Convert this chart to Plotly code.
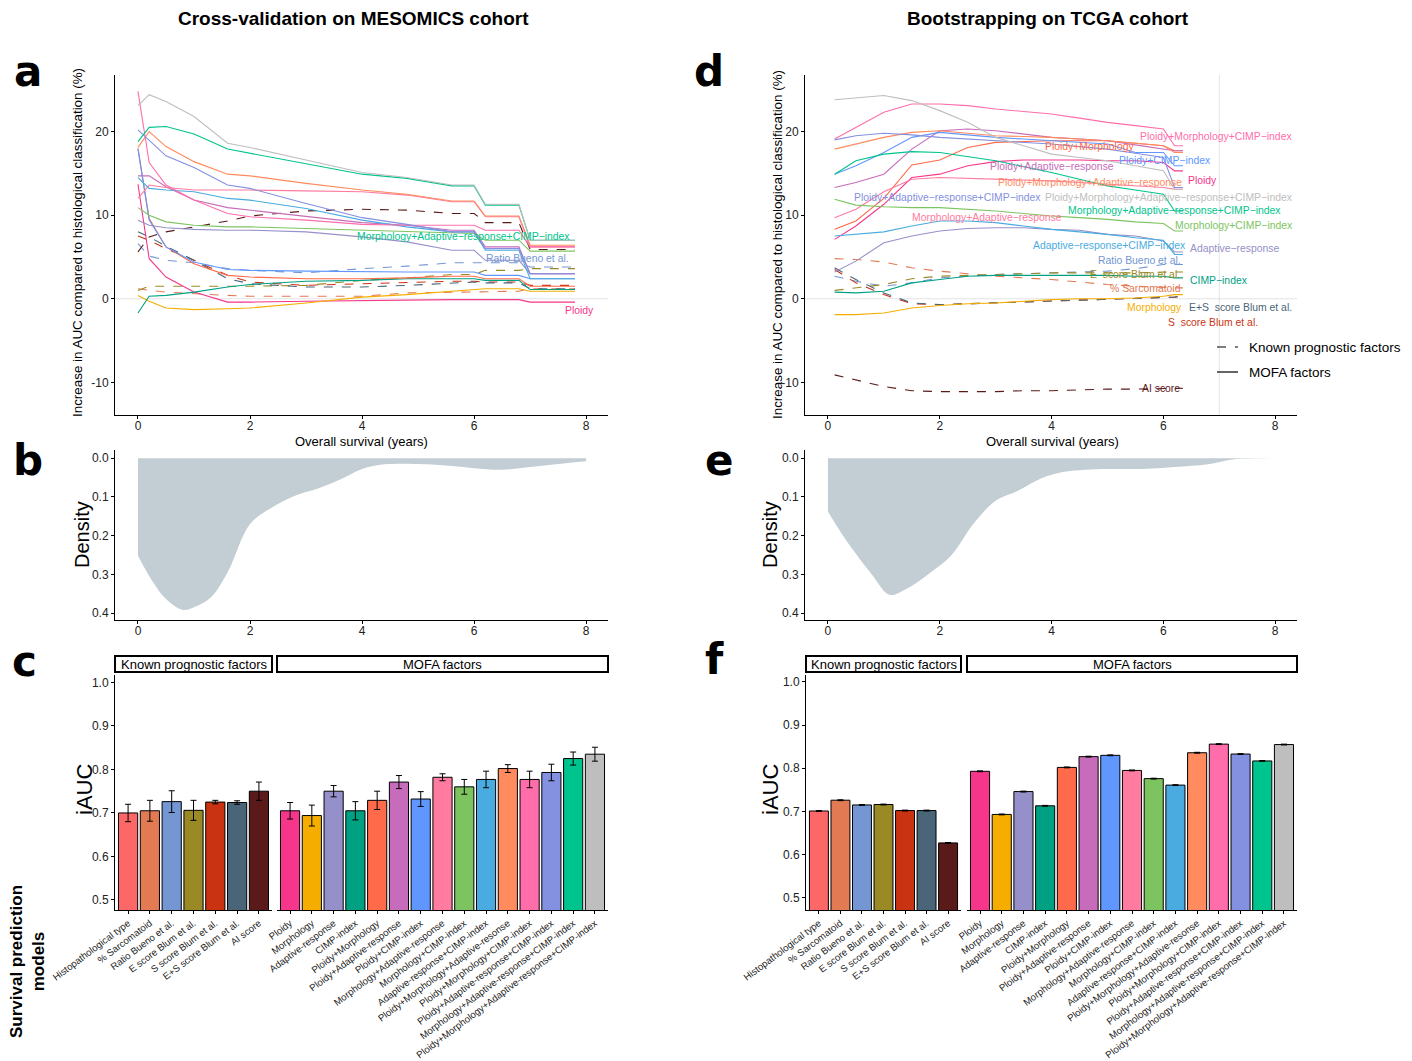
import plotly.graph_objects as go

W, H = 1412, 1061

# ---------------- categories / colours ----------------
known_factors = ["Histopathological type", "% Sarcomatoid", "Ratio Bueno et al.", "E score Blum et al.",
                 "S score Blum et al.", "E+S score Blum et al.", "AI score"]
mofa_factors = ["Ploidy", "Morphology", "Adaptive-response", "CIMP-index", "Ploidy+Morphology",
                "Ploidy+Adaptive-response", "Ploidy+CIMP-index", "Morphology+Adaptive-response",
                "Morphology+CIMP-index", "Adaptive-response+CIMP-index", "Ploidy+Morphology+Adaptive-resonse",
                "Ploidy+Morphology+CIMP-index", "Ploidy+Adaptive-response+CIMP-index",
                "Morphology+Adaptive-response+CIMP-index", "Ploidy+Morphology+Adaptive-response+CIMP-index"]
known_colors = ["#FC6767", "#E27A54", "#7496D2", "#9A8A25", "#C93312", "#4A6578", "#5A1A1A"]
mofa_colors = ["#F5368A", "#F5AE00", "#9690CA", "#00A083", "#FF6A4A", "#C76CBA", "#6097FF", "#FF7BA0",
               "#7DC460", "#49ABDF", "#FF8B5E", "#FF6EAA", "#8490E0", "#00C48D", "#BEBEBE"]

# ---------------- iAUC bars ----------------
meso_known_iauc = [0.700, 0.705, 0.726, 0.706, 0.725, 0.724, 0.750]
meso_known_err = [0.020, 0.024, 0.025, 0.023, 0.004, 0.004, 0.021]
meso_mofa_iauc = [0.705, 0.694, 0.750, 0.705, 0.729, 0.771, 0.732, 0.782, 0.760, 0.777, 0.802, 0.777,
                  0.793, 0.825, 0.835]
meso_mofa_err = [0.019, 0.024, 0.013, 0.021, 0.021, 0.015, 0.017, 0.008, 0.017, 0.019, 0.009, 0.019,
                 0.019, 0.015, 0.016]
tcga_known_iauc = [0.701, 0.726, 0.715, 0.716, 0.702, 0.702, 0.627]
tcga_known_err = [0.001, 0.001, 0.001, 0.001, 0.001, 0.001, 0.001]
tcga_mofa_iauc = [0.793, 0.693, 0.746, 0.713, 0.802, 0.827, 0.830, 0.795, 0.776, 0.761, 0.836, 0.856,
                  0.833, 0.817, 0.855]
tcga_mofa_err = [0.001, 0.001, 0.001, 0.001, 0.001, 0.001, 0.001, 0.001, 0.001, 0.001, 0.001, 0.001,
                 0.001, 0.001, 0.001]

# ---------------- time-dependent AUC increase: MESOMICS ----------------
meso_time = [0, 0.2, 0.5, 1.0, 1.6, 2.0, 3.0, 4.0, 4.8, 5.6, 6.0, 6.2, 6.8, 7.0, 7.8]
meso_sarcomatoid = [1.2, 1.0, 0.8, 0.6, 0.4, 0.3, 0.3, 0.3, 0.7, 0.8, 0.8, 0.9, 0.9, 1.2, 1.2]
meso_ratio_bueno = [6.6, 5.1, 4.6, 4.3, 3.6, 3.4, 3.1, 3.6, 3.9, 4.3, 4.3, 4.3, 4.3, 3.8, 3.8]
meso_e_score = [1.0, 1.5, 1.5, 1.5, 1.5, 1.5, 1.6, 2.2, 2.5, 2.9, 2.9, 3.4, 3.4, 3.6, 3.6]
meso_s_score = [7.5, 7.0, 6.0, 4.6, 2.8, 2.0, 1.6, 1.8, 1.9, 2.1, 2.1, 2.0, 2.0, 1.6, 1.6]
meso_es_score = [8.0, 7.4, 6.3, 4.6, 2.4, 1.8, 1.4, 1.4, 1.6, 1.9, 2.0, 1.9, 1.9, 1.2, 1.2]
meso_ai_score = [5.6, 7.4, 8.0, 8.6, 9.3, 9.9, 10.5, 10.7, 10.6, 10.2, 10.2, 9.1, 9.1, 5.9, 5.9]
meso_p = [13.7, 4.8, 2.6, 0.8, -0.4, -0.4, -0.3, -0.2, -0.2, -0.1, -0.1, -0.1, -0.1, -0.4, -0.4]
meso_m = [0.4, -0.3, -1.1, -1.3, -1.2, -1.1, -0.5, 0.2, 0.5, 0.9, 1.1, 1.2, 1.2, 0.9, 0.9]
meso_a = [9.4, 8.8, 8.5, 8.3, 8.2, 8.2, 8.0, 7.4, 6.8, 5.8, 5.8, 4.6, 4.6, 3.0, 3.0]
meso_c = [-1.7, 0.3, 0.4, 0.8, 1.4, 1.7, 2.1, 2.2, 2.4, 2.4, 2.4, 2.2, 2.2, 1.1, 1.1]
meso_pm = [18.0, 9.6, 6.2, 4.2, 2.8, 2.6, 2.4, 2.4, 2.5, 2.7, 2.7, 2.4, 2.4, 1.5, 1.5]
meso_pa = [14.7, 14.7, 13.4, 11.8, 10.9, 10.6, 9.9, 9.1, 8.8, 8.2, 8.2, 6.2, 6.2, 3.0, 3.0]
meso_pc = [17.9, 9.4, 6.2, 4.4, 3.5, 3.4, 3.3, 3.2, 3.2, 3.2, 3.2, 2.8, 2.8, 2.4, 2.4]
meso_ma = [12.0, 13.6, 13.3, 13.0, 13.0, 13.0, 12.9, 12.8, 12.4, 11.6, 11.6, 9.8, 9.8, 6.2, 6.2]
meso_mc = [10.9, 10.0, 9.2, 8.8, 8.6, 8.6, 8.4, 8.2, 8.0, 7.8, 7.8, 7.0, 7.0, 5.7, 5.7]
meso_ac = [14.5, 13.2, 13.0, 12.8, 12.0, 11.8, 10.8, 9.4, 8.6, 8.0, 8.0, 5.8, 5.8, 2.4, 2.4]
meso_pma = [18.1, 20.0, 18.2, 16.4, 14.9, 14.7, 13.8, 13.0, 12.5, 11.7, 11.7, 9.9, 9.9, 6.4, 6.4]
meso_pmc = [24.8, 16.3, 13.6, 11.8, 10.2, 9.8, 9.4, 8.9, 8.8, 8.8, 8.8, 8.2, 8.2, 6.2, 6.2]
meso_pac = [20.2, 19.0, 17.1, 15.7, 13.6, 13.2, 11.4, 9.7, 8.9, 8.0, 8.0, 6.0, 6.0, 3.0, 3.0]
meso_mac = [18.8, 20.5, 20.6, 19.7, 17.9, 17.4, 16.2, 14.9, 14.4, 13.5, 13.5, 11.2, 11.2, 7.0, 7.0]
meso_pmac = [23.1, 24.4, 23.6, 21.8, 18.6, 18.1, 16.6, 15.1, 14.5, 13.6, 13.6, 11.3, 11.3, 7.0, 7.0]

# ---------------- time-dependent AUC increase: TCGA ----------------
tcga_time = [0.12, 0.5, 1.0, 1.5, 2.0, 2.5, 3.0, 3.5, 4.0, 4.5, 5.0, 5.5, 6.0, 6.2, 6.35]
tcga_sarcomatoid = [4.8, 4.7, 4.4, 3.7, 3.3, 3.0, 2.7, 2.5, 2.3, 2.0, 1.7, 1.5, 1.3, 1.3, 1.3]
tcga_ratio_bueno = [2.7, 2.1, 1.5, 1.9, 2.5, 2.7, 2.9, 3.0, 3.1, 3.2, 3.3, 3.6, 4.1, 4.1, 4.1]
tcga_e_score = [1.0, 1.3, 1.7, 2.4, 2.7, 2.8, 2.9, 3.0, 3.1, 3.1, 3.1, 3.1, 3.2, 3.2, 3.2]
tcga_s_score = [3.5, 1.9, 0.5, -0.6, -0.7, -0.6, -0.5, -0.4, -0.3, -0.2, -0.1, 0.0, 0.1, 0.2, 0.3]
tcga_es_score = [3.7, 2.3, 0.7, -0.5, -0.7, -0.6, -0.5, -0.4, -0.3, -0.2, -0.1, 0.0, 0.1, 0.2, 0.3]
tcga_ai_score = [-9.1, -9.7, -10.5, -11.0, -11.1, -11.1, -11.1, -11.0, -11.0, -10.9, -10.8, -10.8, -10.7, -10.7, -10.7]
tcga_p = [7.1, 8.7, 11.3, 14.5, 14.9, 15.9, 16.4, 16.6, 16.6, 16.6, 16.5, 16.5, 16.3, 15.3, 15.3]
tcga_m = [-1.9, -1.9, -1.7, -1.1, -0.8, -0.6, -0.5, -0.3, -0.1, 0.0, 0.0, 0.1, 0.3, 0.5, 0.5]
tcga_a = [3.2, 4.5, 6.7, 7.5, 8.1, 8.4, 8.5, 8.5, 8.3, 8.2, 7.7, 7.5, 6.9, 5.6, 5.6]
tcga_c = [0.8, 0.7, 0.9, 1.9, 2.3, 2.7, 2.8, 2.8, 2.8, 2.8, 2.8, 2.7, 2.7, 2.5, 2.5]
tcga_pm = [8.3, 9.3, 12.0, 16.0, 16.6, 18.1, 18.7, 18.8, 18.9, 18.9, 18.9, 18.6, 18.3, 17.7, 17.7]
tcga_pa = [13.3, 13.9, 14.9, 17.9, 20.1, 20.3, 20.1, 19.7, 19.3, 19.1, 18.9, 18.4, 17.9, 17.7, 17.7]
tcga_pc = [14.9, 15.9, 17.5, 19.3, 19.9, 19.6, 19.3, 19.1, 18.9, 18.7, 18.5, 17.5, 17.5, 15.9, 15.9]
tcga_ma = [9.7, 10.7, 12.8, 14.3, 14.5, 14.4, 14.3, 14.2, 14.1, 13.9, 13.7, 13.5, 13.3, 13.1, 13.1]
tcga_mc = [11.9, 11.2, 11.0, 10.9, 10.9, 10.7, 10.5, 10.2, 9.9, 9.7, 9.5, 9.2, 9.0, 8.1, 8.1]
tcga_ac = [7.5, 7.7, 8.0, 8.7, 9.3, 9.3, 9.1, 8.7, 8.3, 8.0, 7.7, 7.3, 7.0, 5.3, 5.3]
tcga_pma = [17.9, 18.5, 19.3, 19.9, 20.1, 19.8, 19.5, 19.4, 19.3, 19.1, 18.9, 18.6, 18.3, 17.5, 17.5]
tcga_pmc = [19.1, 20.5, 22.3, 23.3, 23.3, 23.1, 22.7, 22.4, 22.1, 21.6, 21.1, 20.7, 20.3, 18.3, 18.3]
tcga_pac = [19.0, 19.5, 19.8, 19.6, 19.3, 19.1, 18.9, 18.7, 18.5, 18.2, 17.9, 17.4, 16.9, 13.3, 13.3]
tcga_mac = [14.9, 16.5, 17.3, 17.6, 17.5, 17.0, 16.5, 15.8, 15.1, 14.3, 13.5, 13.0, 12.5, 10.5, 10.5]
tcga_pmac = [23.8, 24.0, 24.3, 23.7, 22.5, 21.1, 19.3, 18.3, 17.3, 16.9, 16.5, 15.9, 15.3, 13.1, 13.1]

# ---------------- survival time density ----------------
meso_dens_x = [0, 0.25, 0.5, 0.8, 1.0, 1.3, 1.6, 2.0, 2.4, 2.8, 3.2, 3.6, 4.0, 4.4, 5.0, 5.5, 6.0, 6.5, 7.0, 7.5, 8.0]
meso_dens_y = [0.252, 0.316, 0.364, 0.392, 0.385, 0.360, 0.295, 0.170, 0.127, 0.097, 0.079, 0.056, 0.028,
               0.016, 0.015, 0.019, 0.026, 0.030, 0.023, 0.015, 0.008]
tcga_dens_x = [0, 0.25, 0.5, 0.8, 1.1, 1.4, 1.8, 2.2, 2.6, 3.0, 3.4, 3.8, 4.2, 4.6, 5.0, 5.6, 6.2, 6.8, 7.2, 7.6, 8.0]
tcga_dens_y = [0.138, 0.196, 0.247, 0.303, 0.353, 0.338, 0.299, 0.252, 0.170, 0.110, 0.084, 0.053, 0.036,
               0.030, 0.028, 0.028, 0.023, 0.016, 0.004, 0.001, 0.0]

# ---------------- helpers ----------------
FONT = "Liberation Sans, Arial, sans-serif"


def dx(p):
    return p / W


def dy(p):
    return 1 - p / H


line_names = ["% Sarcomatoid", "Ratio Bueno et al.", "E score Blum et al.", "S score Blum et al.",
              "E+S score Blum et al.", "AI score"] + mofa_factors
line_colors = known_colors[1:] + mofa_colors
line_dash = ["dash"] * 6 + ["solid"] * 15
meso_series = [meso_sarcomatoid, meso_ratio_bueno, meso_e_score, meso_s_score, meso_es_score, meso_ai_score,
               meso_p, meso_m, meso_a, meso_c, meso_pm, meso_pa, meso_pc, meso_ma, meso_mc, meso_ac,
               meso_pma, meso_pmc, meso_pac, meso_mac, meso_pmac]
tcga_series = [tcga_sarcomatoid, tcga_ratio_bueno, tcga_e_score, tcga_s_score, tcga_es_score, tcga_ai_score,
               tcga_p, tcga_m, tcga_a, tcga_c, tcga_pm, tcga_pa, tcga_pc, tcga_ma, tcga_mc, tcga_ac,
               tcga_pma, tcga_pmc, tcga_pac, tcga_mac, tcga_pmac]

fig = go.Figure()

# line panels
for xs, series, xa, ya in [(meso_time, meso_series, "x", "y"), (tcga_time, tcga_series, "x5", "y5")]:
    for name, vals, col, dsh in zip(line_names, series, line_colors, line_dash):
        fig.add_trace(go.Scatter(x=xs, y=vals, mode="lines", name=name, showlegend=False,
                                 line=dict(color=col, width=1.1, dash=dsh), xaxis=xa, yaxis=ya))

# density panels
for xs, ys, xa, ya in [(meso_dens_x, meso_dens_y, "x2", "y2"), (tcga_dens_x, tcga_dens_y, "x6", "y6")]:
    fig.add_trace(go.Scatter(x=xs, y=ys, mode="lines", fill="tozeroy", fillcolor="#C2CDD4",
                             line=dict(color="#C2CDD4", width=0, shape="spline"), showlegend=False,
                             xaxis=xa, yaxis=ya))

# bar panels
for cats, vals, errs, cols, xa, ya in [
    (known_factors, meso_known_iauc, meso_known_err, known_colors, "x3", "y3"),
    (mofa_factors, meso_mofa_iauc, meso_mofa_err, mofa_colors, "x4", "y3"),
    (known_factors, tcga_known_iauc, tcga_known_err, known_colors, "x7", "y7"),
    (mofa_factors, tcga_mofa_iauc, tcga_mofa_err, mofa_colors, "x8", "y7"),
]:
    fig.add_trace(go.Bar(x=cats, y=vals, marker=dict(color=cols, line=dict(color="black", width=1)),
                         error_y=dict(type="data", array=errs, color="black", thickness=1, width=3),
                         width=0.88, showlegend=False, xaxis=xa, yaxis=ya))

axis_common = dict(showline=True, linecolor="black", linewidth=1, ticks="outside", ticklen=3,
                   tickcolor="black", tickfont=dict(size=12, color="#222", family=FONT),
                   showgrid=False, zeroline=False, automargin=False)
bar_x_common = dict(axis_common, tickfont=dict(size=9.6, color="#222", family=FONT), tickangle=-37)

line_xrange = [-0.41, 8.39]
layout = dict(
    width=W, height=H, margin=dict(l=0, r=0, t=0, b=0), paper_bgcolor="white", plot_bgcolor="white",
    font=dict(family=FONT, color="black"), showlegend=False, bargap=0.12,
    # a
    xaxis=dict(domain=[dx(115), dx(608)], anchor="y", range=line_xrange, tickvals=[0, 2, 4, 6, 8],
               ticklabelstandoff=-3, **axis_common),
    yaxis=dict(domain=[dy(415), dy(75)], anchor="x", range=[-13.9, 26.76], tickvals=[-10, 0, 10, 20],
               ticktext=["-10", "0", "10", "20"], **axis_common),
    # b
    xaxis2=dict(domain=[dx(115), dx(608)], anchor="y2", range=line_xrange, tickvals=[0, 2, 4, 6, 8],
                ticklabelstandoff=-3, **axis_common),
    yaxis2=dict(domain=[dy(620), dy(450)], anchor="x2", range=[0.418, -0.021], tickvals=[0, 0.1, 0.2, 0.3, 0.4],
                ticktext=["0.0", "0.1", "0.2", "0.3", "0.4"], **axis_common),
    # c
    xaxis3=dict(domain=[dx(115), dx(272)], anchor="y3", range=[-0.6, 6.6], **bar_x_common),
    xaxis4=dict(domain=[dx(277), dx(608)], anchor="y3", range=[-0.6, 14.6], **bar_x_common),
    yaxis3=dict(domain=[dy(910), dy(675)], anchor="x3", range=[0.477, 1.017], tickvals=[0.5, 0.6, 0.7, 0.8, 0.9, 1.0],
                ticktext=["0.5", "0.6", "0.7", "0.8", "0.9", "1.0"], **axis_common),
    # d
    xaxis5=dict(domain=[dx(805), dx(1297)], anchor="y5", range=line_xrange, tickvals=[0, 2, 4, 6, 8],
                ticklabelstandoff=-3, **axis_common),
    yaxis5=dict(domain=[dy(415), dy(75)], anchor="x5", range=[-13.9, 26.76], tickvals=[-10, 0, 10, 20],
                ticktext=["-10", "0", "10", "20"], **axis_common),
    # e
    xaxis6=dict(domain=[dx(805), dx(1297)], anchor="y6", range=line_xrange, tickvals=[0, 2, 4, 6, 8],
                ticklabelstandoff=-3, **axis_common),
    yaxis6=dict(domain=[dy(620), dy(450)], anchor="x6", range=[0.418, -0.021], tickvals=[0, 0.1, 0.2, 0.3, 0.4],
                ticktext=["0.0", "0.1", "0.2", "0.3", "0.4"], **axis_common),
    # f
    xaxis7=dict(domain=[dx(806), dx(961)], anchor="y7", range=[-0.6, 6.6], **bar_x_common),
    xaxis8=dict(domain=[dx(967), dx(1297)], anchor="y7", range=[-0.6, 14.6], **bar_x_common),
    yaxis7=dict(domain=[dy(910), dy(675)], anchor="x7", range=[0.4715, 1.0162], tickvals=[0.5, 0.6, 0.7, 0.8, 0.9, 1.0],
                ticktext=["0.5", "0.6", "0.7", "0.8", "0.9", "1.0"], **axis_common),
)
fig.update_layout(**layout)

shapes = []
# reference lines
shapes.append(dict(type="line", xref="x domain", yref="y", x0=0, x1=1, y0=0, y1=0,
                   line=dict(color="#E3E3E3", width=1), layer="below"))
shapes.append(dict(type="line", xref="x5 domain", yref="y5", x0=0, x1=1, y0=0, y1=0,
                   line=dict(color="#E3E3E3", width=1), layer="below"))
shapes.append(dict(type="line", xref="x5", yref="y5 domain", x0=7, x1=7, y0=0, y1=1,
                   line=dict(color="#E3E3E3", width=1), layer="below"))
# facet strips
for x0, x1 in [(115, 272), (277, 608), (806, 961), (967, 1297)]:
    shapes.append(dict(type="rect", xref="paper", yref="paper", x0=dx(x0), x1=dx(x1), y0=dy(672), y1=dy(656),
                       line=dict(color="black", width=2), fillcolor="white"))
# legend keys in panel d
shapes.append(dict(type="line", xref="paper", yref="paper", x0=dx(1217), x1=dx(1238), y0=dy(347), y1=dy(347),
                   line=dict(color="black", width=1.2, dash="dash")))
shapes.append(dict(type="line", xref="paper", yref="paper", x0=dx(1217), x1=dx(1238), y0=dy(372), y1=dy(372),
                   line=dict(color="black", width=1.2)))

ann = []


def txt(x, y, text, size=12, color="black", xanchor="center", angle=0, bold=False, family=FONT, yanchor="middle"):
    ann.append(dict(x=dx(x), y=dy(y), xref="paper", yref="paper", text=("<b>%s</b>" % text) if bold else text,
                    showarrow=False, xanchor=xanchor, yanchor=yanchor, textangle=angle,
                    font=dict(size=size, color=color, family=family)))


# titles
txt(353, 18, "Cross-validation on MESOMICS cohort", size=19, bold=True)
txt(1048, 18, "Bootstrapping on TCGA cohort", size=19, bold=True)
# panel letters
for lx, ly, lt in [(28, 72, "a"), (28, 460, "b"), (24, 661, "c"), (709, 72, "d"), (719, 460, "e"), (714, 659, "f")]:
    txt(lx, ly, lt, size=42, bold=True, family="DejaVu Sans, sans-serif")
# axis titles
ytitle = "Increase in AUC compared to histological classification (%)"
txt(78, 243, ytitle, size=13.4, angle=-90)
txt(777, 245, ytitle, size=13.4, angle=-90)
txt(362, 441, "Overall survival (years)", size=13)
txt(1052, 441, "Overall survival (years)", size=13)
txt(82, 535, "Density", size=20, angle=-90)
txt(770, 535, "Density", size=20, angle=-90)
txt(84, 790, "iAUC", size=22, angle=-90)
txt(770, 790, "iAUC", size=22, angle=-90)
txt(27, 962, "Survival prediction<br>models", size=17, angle=-90, bold=True)
# strip labels
txt(193.5, 664, "Known prognostic factors", size=13)
txt(442.5, 664, "MOFA factors", size=13)
txt(883.5, 664, "Known prognostic factors", size=13)
txt(1132, 664, "MOFA factors", size=13)
# legend text
txt(1247, 347, "Known prognostic factors", size=13.5, xanchor="left")
txt(1247, 372, "MOFA factors", size=13.5, xanchor="left")

# line labels panel a
meso_labels = [
    (355, 236, "Morphology+Adaptive\u2212response+CIMP\u2212index", "#00C48D"),
    (484, 259, "Ratio Bueno et al.", "#7496D2"),
    (563, 310, "Ploidy", "#F5368A"),
]
for lx, ly, lt, lc in meso_labels:
    txt(lx, ly, lt, size=10.4, color=lc, xanchor="left")

# line labels panel d
tcga_labels = [
    (1138, 136, "Ploidy+Morphology+CIMP\u2212index", "#FF6EAA"),
    (1043, 147, "Ploidy+Morphology", "#FF6A4A"),
    (1117, 160, "Ploidy+CIMP\u2212index", "#6097FF"),
    (988, 167, "Ploidy+Adaptive\u2212response", "#C76CBA"),
    (996, 182, "Ploidy+Morphology+Adaptive\u2212response", "#FF8B5E"),
    (1186, 181, "Ploidy", "#F5368A"),
    (852, 197, "Ploidy+Adaptive\u2212response+CIMP\u2212index", "#8490E0"),
    (1043, 197, "Ploidy+Morphology+Adaptive\u2212response+CIMP\u2212index", "#BEBEBE"),
    (1066, 210, "Morphology+Adaptive\u2212response+CIMP\u2212index", "#00C48D"),
    (910, 217, "Morphology+Adaptive\u2212response", "#FF7BA0"),
    (1173, 225, "Morphology+CIMP\u2212index", "#7DC460"),
    (1031, 246, "Adaptive\u2212response+CIMP\u2212index", "#49ABDF"),
    (1188, 248, "Adaptive\u2212response", "#9690CA"),
    (1096, 260, "Ratio Bueno et al.", "#7496D2"),
    (1088, 274, "E  score Blum et al.", "#9A8A25"),
    (1188, 281, "CIMP\u2212index", "#00A083"),
    (1108, 288, "% Sarcomatoid", "#E27A54"),
    (1125, 307, "Morphology", "#F5AE00"),
    (1187, 307, "E+S  score Blum et al.", "#4A6578"),
    (1166, 322, "S  score Blum et al.", "#C93312"),
    (1140, 388, "AI score", "#5A1A1A"),
]
for lx, ly, lt, lc in tcga_labels:
    txt(lx, ly, lt.replace("  ", "&nbsp; "), size=10.4, color=lc, xanchor="left")

fig.update_layout(shapes=shapes, annotations=ann)
fig.write_html("out.html", config={"displayModeBar": False},
               post_script="document.body.style.margin='0px';document.body.style.overflow='hidden';")
